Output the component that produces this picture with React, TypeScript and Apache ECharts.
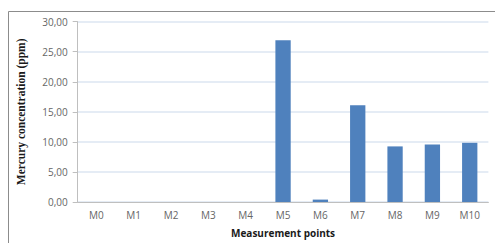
import React, { useEffect, useRef } from "react";
import * as echarts from "echarts";

const categories = ["M0", "M1", "M2", "M3", "M4", "M5", "M6", "M7", "M8", "M9", "M10"];
const mercury = [0, 0, 0, 0, 0, 26.9, 0.4, 16.1, 9.25, 9.55, 9.85];
const yTicks = { min: 0, max: 30, interval: 5 };

export default function App() {
  const ref = useRef<HTMLDivElement>(null);
  useEffect(() => {
    if (!ref.current) return;
    const chart = echarts.init(ref.current, null, { renderer: "svg" });
    chart.setOption({
      animation: false,
      backgroundColor: "#ffffff",
      graphic: [
        {
          type: "polyline",
          shape: { points: [[8.5, 243], [8.5, 11.5], [495, 11.5]] },
          style: { stroke: "#8c8c8c", lineWidth: 1, fill: "none" },
          silent: true,
        },
      ],
      grid: { left: 77.7, right: 6.6, top: 21.7, bottom: 37.3, containLabel: false },
      xAxis: {
        type: "category",
        data: categories,
        name: "Measurement points",
        nameLocation: "middle",
        nameGap: 26,
        nameTextStyle: { fontFamily: "Open Sans", fontWeight: "bold", fontSize: 10, color: "#1a1a1a" },
        axisLine: { show: true, lineStyle: { color: "#bfbfbf", width: 1 } },
        axisTick: { show: false },
        axisLabel: { fontFamily: "Open Sans", fontSize: 10, color: "#666666", margin: 8 },
      },
      yAxis: {
        type: "value",
        min: yTicks.min,
        max: yTicks.max,
        interval: yTicks.interval,
        name: "Mercury concentration (ppm)",
        nameLocation: "middle",
        nameRotate: 90,
        nameGap: 51,
        nameTextStyle: { fontFamily: "Liberation Serif", fontWeight: "bold", fontSize: 11.5, color: "#1a1a1a" },
        axisLine: { show: true, lineStyle: { color: "#bfbfbf", width: 1 } },
        axisTick: { show: true, length: 5, lineStyle: { color: "#bfbfbf" } },
        axisLabel: {
          fontFamily: "Open Sans",
          fontSize: 10,
          color: "#666666",
          margin: 10,
          formatter: (v: number) => v.toFixed(2).replace(".", ","),
        },
        splitLine: { show: true, lineStyle: { color: "#dce6f2", width: 1.5 } },
      },
      series: [
        {
          type: "bar",
          data: mercury,
          barWidth: "41%",
          itemStyle: { color: "#4f81bd" },
        },
      ],
    });
    return () => chart.dispose();
  }, []);
  return (
    <div
      ref={ref}
      style={{ position: "fixed", left: 0, top: 0, width: 495, height: 243 }}
    />
  );
}
